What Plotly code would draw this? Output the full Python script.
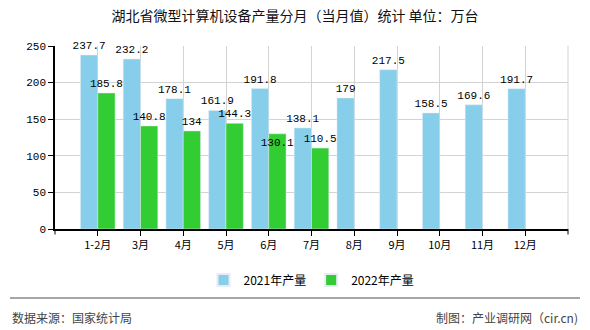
import plotly.graph_objects as go

months = ["1-2月", "3月", "4月", "5月", "6月", "7月", "8月", "9月", "10月", "11月", "12月"]
prod_2021 = [237.7, 232.2, 178.1, 161.9, 191.8, 138.1, 179, 217.5, 158.5, 169.6, 191.7]
prod_2022 = [185.8, 140.8, 134, 144.3, 130.1, 110.5, None, None, None, None, None]
y_ticks = [0, 50, 100, 150, 200, 250]

title = "湖北省微型计算机设备产量分月（当月值）统计 单位：万台"
src_left = "数据来源：国家统计局"
src_right = "制图：产业调研网（cir.cn)"

num_font = "Liberation Mono, DejaVu Sans Mono, Noto Sans CJK SC"
cjk_font = "Noto Sans CJK SC, sans-serif"

def fmt(v):
    if v is None:
        return ""
    return str(int(v)) if float(v).is_integer() else str(v)

pos_2022 = ["outside"] * len(months)
pos_2022[4] = "inside"  # 6月 label sits lower, as in the reference

fig = go.Figure()
fig.add_trace(go.Bar(
    x=months, y=prod_2021, name="2021年产量", marker_color="#87CEEB",
    text=[fmt(v) for v in prod_2021], textposition="outside", cliponaxis=False,
    constraintext="none", textangle=0,
    textfont=dict(family=num_font, size=11, color="#000"),
))
fig.add_trace(go.Bar(
    x=months, y=prod_2022, name="2022年产量", marker_color="#32CD32",
    text=[fmt(v) for v in prod_2022], textposition=pos_2022, cliponaxis=False,
    constraintext="none", textangle=0, insidetextanchor="end",
    textfont=dict(family=num_font, size=11, color="#000"),
    insidetextfont=dict(family=num_font, size=11, color="#000"),
))

fig.update_layout(
    width=590, height=330,
    margin=dict(l=55, r=22, t=46, b=101),
    paper_bgcolor="white", plot_bgcolor="white",
    barmode="group", bargap=0.19, bargroupgap=0,
    title=dict(text=title, x=0.5, xanchor="center", y=0.95, yanchor="middle",
               font=dict(family=cjk_font, size=14, color="#111")),
    showlegend=True,
    legend=dict(orientation="h", x=0.5, xanchor="center", y=-0.2, yanchor="top",
                font=dict(family=cjk_font, size=12, color="#000"),
                itemsizing="constant", traceorder="normal"),
    xaxis=dict(
        type="category", range=[-1, 11],
        showgrid=True, gridcolor="#d3d3d3", gridwidth=1,
        showline=True, linecolor="#000", linewidth=1.5,
        ticks="outside", ticklen=5, tickcolor="#000",
        tickfont=dict(family=cjk_font, size=11, color="#000"),
        fixedrange=True,
    ),
    yaxis=dict(
        range=[0, 250], tickvals=y_ticks,
        showgrid=True, gridcolor="#d3d3d3", gridwidth=1,
        showline=True, linecolor="#000", linewidth=1.5,
        ticks="outside", ticklen=5, tickcolor="#000",
        tickfont=dict(family=num_font, size=11, color="#000"),
        zeroline=False,
    ),
)

# right-edge gridline/tick, left-edge tick
fig.add_shape(type="line", xref="paper", yref="paper", x0=1, x1=1, y0=0, y1=1,
              line=dict(color="#d3d3d3", width=1))
fig.add_shape(type="line", xref="paper", yref="y domain", x0=1, x1=1, y0=0, y1=-0.03,
              line=dict(color="#000", width=1))
fig.add_shape(type="line", xref="paper", yref="y domain", x0=0, x1=0, y0=0, y1=-0.03,
              line=dict(color="#000", width=1))

# footer separator line
fig.add_shape(type="line", xref="paper", yref="paper",
              x0=-45/513, x1=(580-55)/513, y0=-(298-229)/183, y1=-(298-229)/183,
              line=dict(color="#888", width=1.5))
fig.add_annotation(text=src_left, xref="paper", yref="paper",
                   x=-45/513, xanchor="left", y=-(317-229)/183, yanchor="middle",
                   showarrow=False, font=dict(family=cjk_font, size=12, color="#444"))
fig.add_annotation(text=src_right, xref="paper", yref="paper",
                   x=(580-55)/513, xanchor="right", y=-(317-229)/183, yanchor="middle",
                   showarrow=False, font=dict(family=cjk_font, size=12, color="#444"))

fig.write_html("out.html")
